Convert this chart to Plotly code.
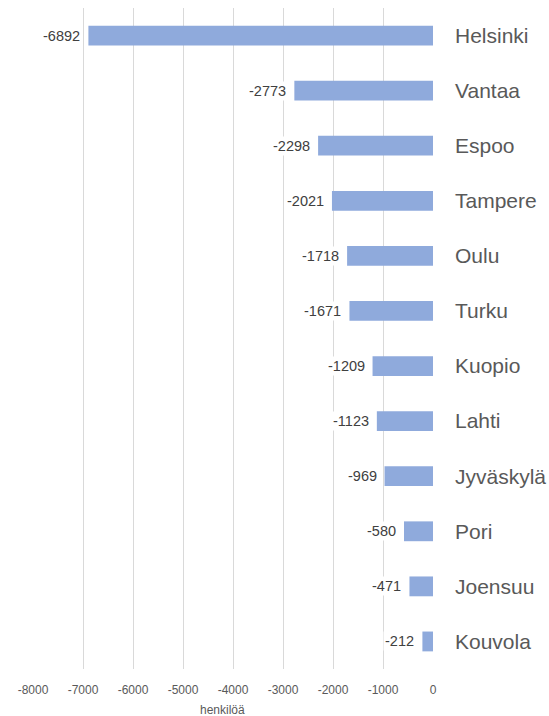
import plotly.graph_objects as go

cities = ["Helsinki", "Vantaa", "Espoo", "Tampere", "Oulu", "Turku",
          "Kuopio", "Lahti", "Jyväskylä", "Pori", "Joensuu", "Kouvola"]
net_change = [-6892, -2773, -2298, -2021, -1718, -1671,
              -1209, -1123, -969, -580, -471, -212]
x_ticks = [-8000, -7000, -6000, -5000, -4000, -3000, -2000, -1000, 0]
axis_title = "henkilöä"

grey_text = "#595959"
font_family = "Liberation Sans, Arial, sans-serif"

fig = go.Figure()
fig.add_trace(go.Bar(
    y=cities,
    x=net_change,
    orientation="h",
    marker=dict(color="#8FAADC", line=dict(width=0)),
    hoverinfo="x+y",
))

# value labels left of each bar, on a white box over the gridlines
for c, v in zip(cities, net_change):
    fig.add_annotation(
        x=v, y=c, xref="x", yref="y",
        text=str(v), showarrow=False,
        xanchor="right", xshift=-6,
        bgcolor="white", borderpad=1,
        font=dict(family=font_family, size=14.5, color="#404040"),
    )

# axis title under the tick labels
fig.add_annotation(
    x=-4220, y=-0.062, xref="x", yref="paper",
    text=axis_title, showarrow=False,
    xanchor="center", yanchor="middle",
    font=dict(family=font_family, size=12, color=grey_text),
)

fig.update_layout(
    width=549, height=716,
    margin=dict(l=33, r=116, t=8, b=47),
    paper_bgcolor="white", plot_bgcolor="white",
    showlegend=False,
    bargap=0.64,
    font=dict(family=font_family, color=grey_text),
)
fig.update_xaxes(
    range=[-8000, 0],
    tickvals=x_ticks,
    ticktext=[str(t) for t in x_ticks],
    showgrid=True, gridcolor="#D9D9D9", gridwidth=1,
    zeroline=False, showline=False,
    ticks="", ticklabelstandoff=12,
    automargin=False,
    tickfont=dict(family=font_family, size=12, color=grey_text),
)
fig.update_yaxes(
    side="right",
    autorange="reversed",
    showgrid=False, zeroline=False, showline=False,
    ticks="", ticklabelstandoff=21,
    automargin=False,
    tickfont=dict(family=font_family, size=21, color=grey_text),
)

fig.write_html("out.html")
